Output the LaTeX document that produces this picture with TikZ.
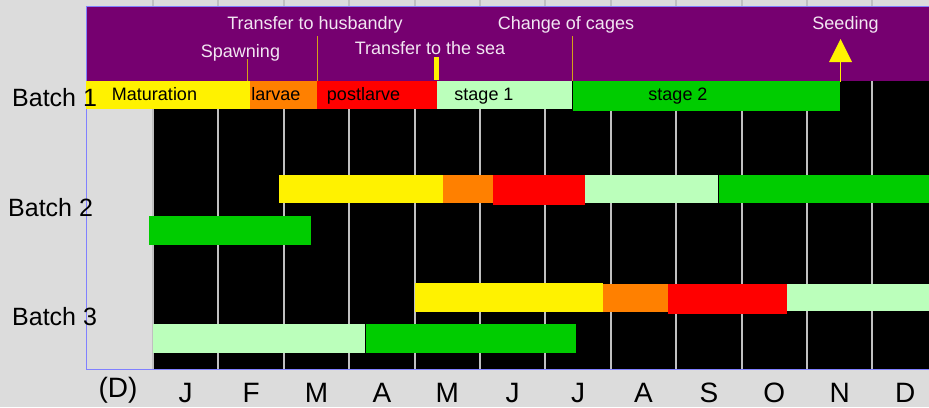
\documentclass[tikz,border=0pt]{standalone}
\usepackage{fontspec}
\setmainfont{Liberation Sans}
\usetikzlibrary{positioning}
\definecolor{panel}{HTML}{DCDCDC}
\definecolor{plum}{HTML}{760070}
\definecolor{plumtext}{HTML}{F2E6F2}
\definecolor{frameblue}{HTML}{8080FF}
\definecolor{gridgray}{HTML}{C0C0C0}
\definecolor{eventgold}{HTML}{D4A017}
\definecolor{larvae}{HTML}{FF8000}
\definecolor{stageone}{HTML}{BBFFBB}
\definecolor{stagetwo}{HTML}{00CC00}

\begin{document}
\begin{tikzpicture}[
    x=1pt, y=-1pt,
    >=latex,
    phase/.style={
        font=\fontsize{18}{18}\selectfont,
        anchor=base,
        inner sep=0pt
    },
    event/.style={
        font=\fontsize{18}{18}\selectfont,
        text=plumtext,
        anchor=base,
        inner sep=0pt
    },
    batch/.style={
        font=\fontsize{25}{25}\selectfont,
        anchor=base west,
        inner sep=0pt
    },
    month/.style={
        font=\fontsize{28}{28}\selectfont,
        anchor=base,
        inner sep=0pt
    }
  ]
  % background and the frame of the chart
  \fill [panel] (0,0) rectangle (929,407);
  \useasboundingbox (0,0) rectangle (929,407);
  \fill [black] (153,81) rectangle (929,369);
  \foreach \k in {0,...,11}
    \draw [gridgray, line width=2pt] ({153+65.4*\k},0) -- ({153+65.4*\k},369);
  \fill [plum] (86,6) rectangle (929,81);
  \draw [frameblue, line width=1pt] (929,6) -- (86,6) -- (86,369) -- (929,369);

  % the bars of each batch
  \foreach \xa/\xb/\ya/\yb/\c in {
      86/250/81/109/yellow, 250/317/81/109/larvae, 317/437/81/109/red,
      437/572/81/109/stageone, 573/840/81/110.5/stagetwo,
      279/443/175/203/yellow, 443/493/175/203/larvae, 493/584.5/175/204.5/red,
      584.5/718/175/203/stageone, 719/929/175/203/stagetwo,
      149/311/216/245/stagetwo,
      415/603/283/311.5/yellow, 603/668/284/311.5/larvae, 668/787/284/313.5/red,
      787/929/284/310.5/stageone,
      153/365/324/352.5/stageone, 366/576/324/352.5/stagetwo}
    \fill [\c] (\xa,\ya) rectangle (\xb,\yb);

  % markers of the events
  \draw [eventgold, line width=1pt] (247,59) -- (247,81);
  \draw [eventgold, line width=1pt] (317,36) -- (317,81);
  \draw [eventgold, line width=1pt] (572,36) -- (572,81);
  \fill [yellow] (434,57) rectangle (439,80);
  \coordinate (seedfoot) at (840.5,82);
  \coordinate (seedtip) at (840.5,39);
  \draw [yellow, line width=1.5pt] (seedfoot) -- (840.5,60);
  \fill [yellow] (seedtip) -- (852,62) -- (829,62) -- cycle;

  % texts of the events
  \node [event] (husbandry) at (315,29.3) {Transfer to husbandry};
  \node [event] (spawning) at (240.5,57) {Spawning};
  \node [event] (sea) at (430,54) {Transfer to the sea};
  \node [event] (cages) at (566,29.3) {Change of cages};
  \node [event] (seeding) at (845.5,29.5) {Seeding};

  % texts of the phases
  \node [phase] (maturation) at (154.5,100.5) {Maturation};
  \node [phase] (larv) at (276,100.5) {larvae};
  \node [phase] (postlarve) at (363.5,100.5) {postlarve};
  \node [phase] (stage1) at (484,100.5) {stage 1};
  \node [phase] (stage2) at (678,100.5) {stage 2};

  % batches
  \node [batch] (batch1) at (12,106) {Batch 1};
  \node [batch] (batch2) at (8,216.7) {Batch 2};
  \node [batch] (batch3) at (12,325) {Batch 3};

  % months
  \node [month] (dec0) at (118,397) {(D)};
  \foreach \m [count=\k from 0] in {J,F,M,A,M,J,J,A,S,O,N,D}
    \node [month] (month\k) at ({153+65.4*(\k+0.5)},402) {\m};

\end{tikzpicture}
\end{document}
